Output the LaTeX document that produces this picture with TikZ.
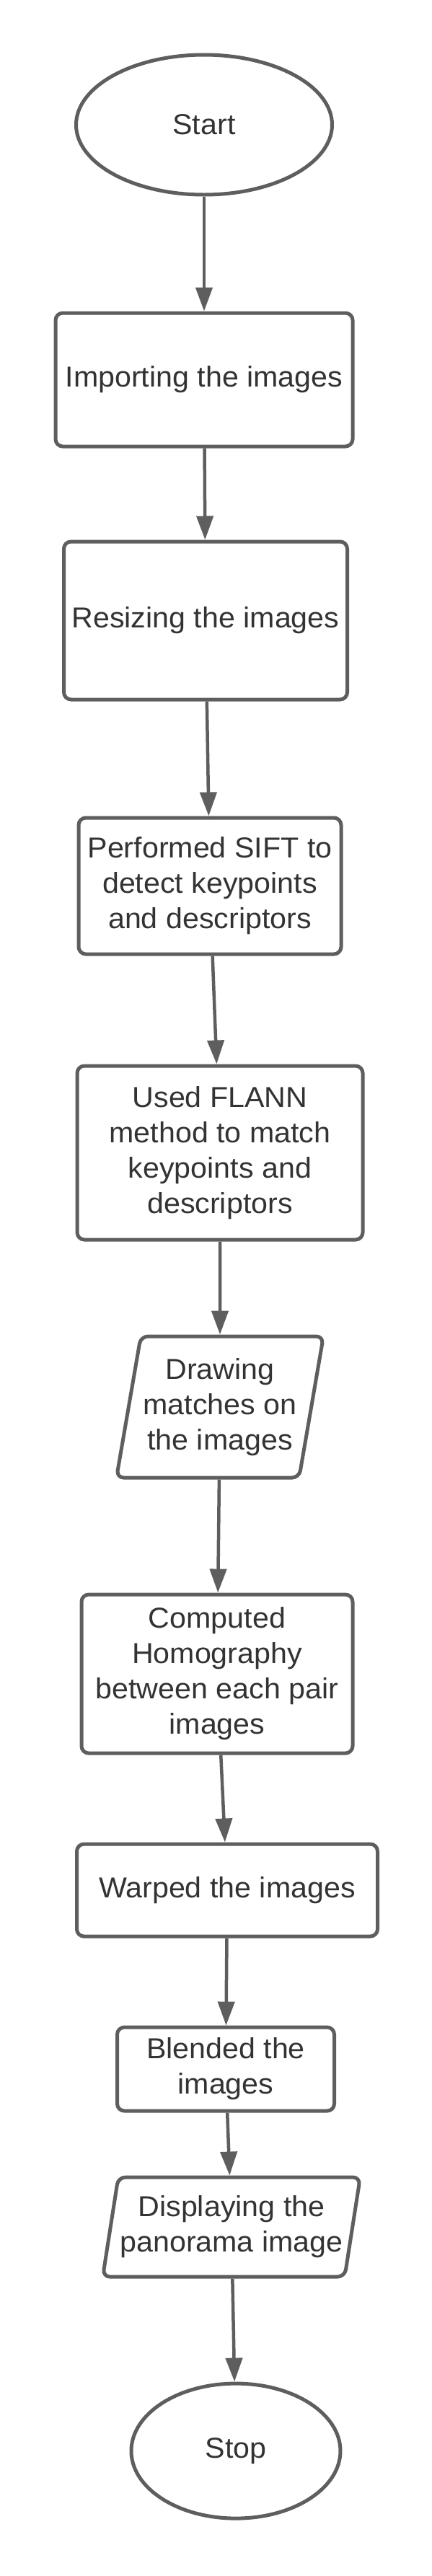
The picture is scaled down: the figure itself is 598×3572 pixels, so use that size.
\documentclass[tikz,border=0pt]{standalone}
\usepackage{fontspec}
\setmainfont{Liberation Sans}[FakeStretch=1.03]
\usepackage{xcolor}
\usetikzlibrary{arrows.meta, positioning, shapes.geometric}

\definecolor{linegray}{HTML}{5E5E5E}
\definecolor{textgray}{HTML}{333333}

\begin{document}
\begin{tikzpicture}[
  every node/.style={draw=linegray, line width=5pt, text=textgray, align=center,
    inner sep=0pt, font=\fontsize{40}{49}\selectfont},
  terminal/.style={ellipse},
  process/.style={rectangle, rounded corners=10pt},
  inout/.style={trapezium, trapezium left angle=76, trapezium right angle=104,
    trapezium stretches body, rounded corners=10pt},
  arrow/.style={-{Triangle[length=33pt, width=23pt]}, line width=4.5pt, draw=linegray}
]
\useasboundingbox (0,0) rectangle (598pt,-3572pt);

\node[terminal, minimum width=355pt, minimum height=194pt] (start) at (283pt,-173pt) {Start};
\node[process, minimum width=412pt, minimum height=185pt] (import) [below=159pt of start] {Importing the images};
\node[process, minimum width=393pt, minimum height=219pt] (resize) [below=127pt of import, xshift=2pt] {Resizing the images};
\node[process, minimum width=364pt, minimum height=189pt] (sift) [below=159pt of resize, xshift=6pt] {Performed SIFT to\\detect keypoints\\and descriptors};
\node[process, minimum width=396pt, minimum height=241pt] (flann) [below=150pt of sift, xshift=14pt] {Used FLANN\\method to match\\keypoints and\\descriptors};
\node[inout, minimum width=287pt, minimum height=196pt] (drawmatch) [below=129pt of flann] {Drawing\\matches on\\the images};
\node[process, minimum width=376pt, minimum height=220pt] (homog) [below=157pt of drawmatch, xshift=-4pt] {Computed\\Homography\\between each pair\\images};
\node[process, minimum width=417pt, minimum height=128pt] (warp) [below=121pt of homog, xshift=14pt] {Warped the images};
\node[process, minimum width=301pt, minimum height=116pt] (blend) [below=121pt of warp, xshift=-2pt] {Blended the\\images};
\node[inout, minimum width=357pt, minimum height=138pt] (display) [below=87pt of blend, xshift=8pt] {Displaying the\\panorama image};
\node[terminal, minimum width=290pt, minimum height=187pt] (stop) [below=143pt of display, xshift=6pt] {Stop};

\draw[arrow] (start) -- (import);
\draw[arrow] (import) -- (resize);
\draw[arrow] (resize) -- (sift);
\draw[arrow] (sift) -- (flann);
\draw[arrow] (flann) -- (drawmatch);
\draw[arrow] (drawmatch) -- (homog);
\draw[arrow] (homog) -- (warp);
\draw[arrow] (warp) -- (blend);
\draw[arrow] (blend) -- (display);
\draw[arrow] (display) -- (stop);

\end{tikzpicture}
\end{document}
